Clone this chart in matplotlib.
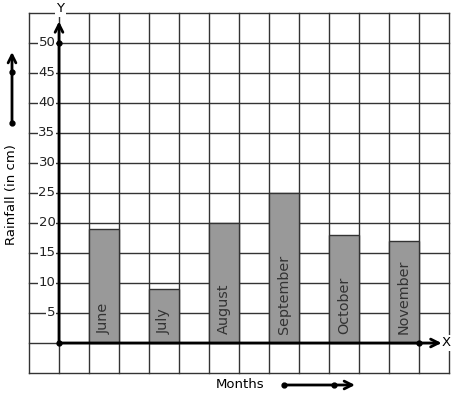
import matplotlib.pyplot as plt
import numpy as np

# datos
months = ["June", "July", "August", "September", "October", "November"]
rainfall = [19, 9, 20, 25, 18, 17]
bar_pos = [1, 3, 5, 7, 9, 11]
y_ticks = [5, 10, 15, 20, 25, 30, 35, 40, 45, 50]

fig = plt.figure(figsize=(4.57, 3.99), dpi=100)
ax = fig.add_axes([29 / 457, 26 / 399, 420 / 457, 360 / 399])
ax.set_xlim(-1, 13)
ax.set_ylim(-5, 55)
ax.axis("off")

# cuadricula
for gx in np.arange(-1, 14, 1):
    ax.plot([gx, gx], [-5, 55], color="#333333", lw=1, zorder=1, clip_on=False)
for gy in np.arange(-5, 56, 5):
    ax.plot([-1, 13], [gy, gy], color="#333333", lw=1, zorder=1, clip_on=False)

# barras
ax.bar(bar_pos, rainfall, width=1, align="edge", color="#999999",
       edgecolor="#333333", lw=1, zorder=2)
for x, m in zip(bar_pos, months):
    ax.text(x + 0.5, 1.5, m, rotation=90, ha="center", va="bottom",
            fontsize=10.4, color="#333333", zorder=3)

# ejes con flechas
flecha = dict(arrowstyle="->", lw=2, color="black", mutation_scale=14,
              shrinkA=0, shrinkB=0)
ax.annotate("", xy=(0, 53.6), xytext=(0, 0), arrowprops=flecha, zorder=4)
ax.annotate("", xy=(12.75, 0), xytext=(0, 0), arrowprops=flecha, zorder=4)
ax.plot([0, 0, 12], [0, 50, 0], "o", color="black", ms=3.5, zorder=5)
ax.text(0.05, 55.7, "Y", ha="center", va="center", fontsize=9.5,
        bbox=dict(facecolor="white", edgecolor="none", pad=1), zorder=5)
ax.text(12.9, 0, "X", ha="center", va="center", fontsize=9.5,
        bbox=dict(facecolor="white", edgecolor="none", pad=1), zorder=5)

# etiquetas del eje y
for t in y_ticks:
    ax.text(-0.12, t, str(t), ha="right", va="center", fontsize=9.5,
            color="#222222",
            bbox=dict(facecolor="white", edgecolor="none", pad=0.5), zorder=5)

# titulos de ejes con flechas
fig.text(12 / 457, 1 - 195 / 399, "Rainfall (in cm)", rotation=90,
         ha="center", va="center", fontsize=9.5)
fig.text(240 / 457, 1 - 385 / 399, "Months", ha="center", va="center",
         fontsize=9.5)

ax.annotate("", xy=(12 / 457, 1 - 52 / 399), xytext=(12 / 457, 1 - 123 / 399),
            xycoords="figure fraction", textcoords="figure fraction",
            arrowprops=flecha)
ax.annotate("", xy=(355 / 457, 1 - 385 / 399), xytext=(284 / 457, 1 - 385 / 399),
            xycoords="figure fraction", textcoords="figure fraction",
            arrowprops=flecha)
fig.add_artist(plt.Line2D([12 / 457, 12 / 457], [1 - 123 / 399, 1 - 72 / 399],
                          marker="o", ms=3.5, lw=0, color="black"))
fig.add_artist(plt.Line2D([284 / 457, 334 / 457], [1 - 385 / 399, 1 - 385 / 399],
                          marker="o", ms=3.5, lw=0, color="black"))

fig.savefig("out.png", dpi=100, facecolor="white")
